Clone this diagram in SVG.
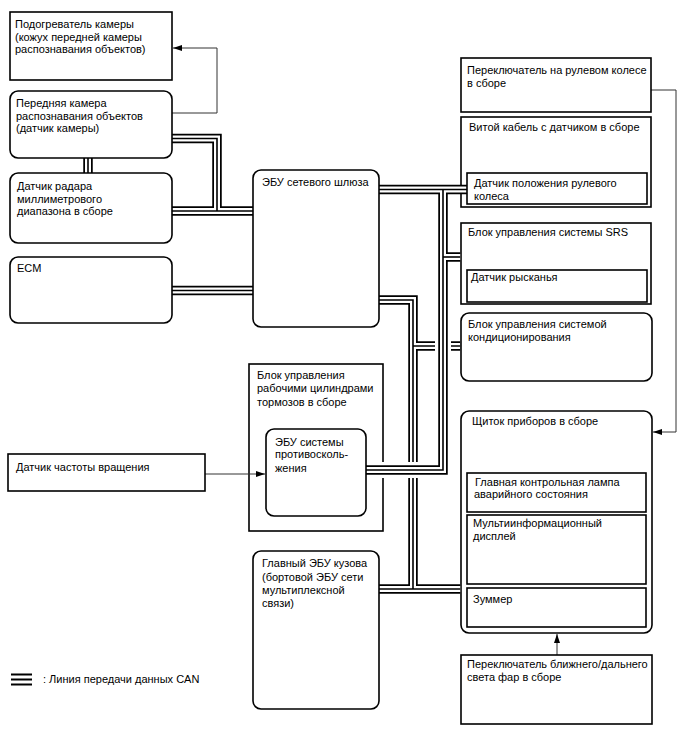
<svg xmlns="http://www.w3.org/2000/svg" width="688" height="755" viewBox="0 0 688 755">
<defs>
<marker id="ah" markerUnits="userSpaceOnUse" markerWidth="9" markerHeight="6" refX="9" refY="3" orient="auto"><path d="M0,0 L9,3 L0,6 z" fill="#000"/></marker>
<style>
.b{fill:#fff;stroke:#000;stroke-width:1.6}
.t{font-family:"Liberation Sans",Arial,sans-serif;font-size:11px;fill:#000}
.co{fill:none;stroke:#000;stroke-width:9.5}
.cw{fill:none;stroke:#fff;stroke-width:6}
.cc{fill:none;stroke:#000;stroke-width:1.6}
.ch{fill:none;stroke:#fff;stroke-width:16}
.th{fill:none;stroke:#333;stroke-width:1}
</style>
</defs>
<rect width="688" height="755" fill="#fff"/>

<g id="containers">
<g id="n-spiral-cable"><rect class="b" x="461" y="117" width="190" height="90"/><text class="t" x="469" y="130.5">Витой кабель с датчиком в сборе</text></g>
<g id="n-srs"><rect class="b" x="461" y="223" width="190" height="81"/><text class="t" x="468" y="235.5">Блок управления системы SRS</text></g>
<g id="n-brake-actuator"><rect class="b" x="249" y="364" width="134" height="167"/><text class="t" x="257" y="379">Блок управления</text><text class="t" x="257" y="392">рабочими цилиндрами</text><text class="t" x="257" y="405.5">тормозов в сборе</text></g>
<g id="n-meter"><rect class="b" x="461" y="411" width="191" height="222" rx="8"/><text class="t" x="472" y="425">Щиток приборов в сборе</text></g>
</g>

<g id="connectors">
<path class="th" d="M172,113 H217 V48 H173" marker-end="url(#ah)"/>
<path class="th" d="M651,90 H676 V432 H653" marker-end="url(#ah)"/>
<path class="th" d="M205,474 H265" marker-end="url(#ah)"/>
<path class="th" d="M557,655 V634" marker-end="url(#ah)"/>
<g id="can-body">
<path class="co" d="M379,300 H413 V589"/><path class="co" d="M413,346 H460.2"/><path class="co" d="M379,589 H460.2"/>
<path class="cw" d="M379,300 H413 V589"/><path class="cw" d="M413,346 H460.2"/><path class="cw" d="M379,589 H460.2"/>
<path class="cc" d="M379,300 H413 V589"/><path class="cc" d="M413,346 H460.2"/><path class="cc" d="M379,589 H460.2"/>
</g>
<g id="can-chassis">
<path class="ch" d="M443,189.5 V470 H366"/>
<path class="co" d="M379,189.5 H467"/><path class="co" d="M443,189.5 V470 H366"/><path class="co" d="M443,257 H460.2"/>
<path class="cw" d="M379,189.5 H467"/><path class="cw" d="M443,189.5 V470 H366"/><path class="cw" d="M443,257 H460.2"/>
<path class="cc" d="M379,189.5 H467"/><path class="cc" d="M443,189.5 V470 H366"/><path class="cc" d="M443,257 H460.2"/>
</g>
<g id="can-left">
<path class="co" d="M172,138.5 H217 V211"/><path class="co" d="M172,211 H253"/><path class="co" d="M88,158 V173"/><path class="co" d="M172,290.5 H253"/>
<path class="cw" d="M172,138.5 H217 V211"/><path class="cw" d="M172,211 H253"/><path class="cw" d="M88,158 V173"/><path class="cw" d="M172,290.5 H253"/>
<path class="cc" d="M172,138.5 H217 V211"/><path class="cc" d="M172,211 H253"/><path class="cc" d="M88,158 V173"/><path class="cc" d="M172,290.5 H253"/>
</g>
</g>

<g id="n-heater"><rect class="b" x="10" y="12" width="162" height="68"/><text class="t" x="15" y="28">Подогреватель камеры</text><text class="t" x="15" y="40.5">(кожух передней камеры</text><text class="t" x="15" y="53">распознавания объектов)</text></g>
<g id="n-camera"><rect class="b" x="10" y="91" width="162" height="67" rx="8"/><text class="t" x="16" y="107">Передняя камера</text><text class="t" x="16" y="119.5">распознавания объектов</text><text class="t" x="16" y="132">(датчик камеры)</text></g>
<g id="n-radar"><rect class="b" x="10" y="173" width="162" height="70" rx="8"/><text class="t" x="17" y="190">Датчик радара</text><text class="t" x="17" y="202.5">миллиметрового</text><text class="t" x="17" y="215">диапазона в сборе</text></g>
<g id="n-ecm"><rect class="b" x="10" y="257" width="162" height="66" rx="8"/><text class="t" x="17" y="272">ECM</text></g>
<g id="n-speed-sensor"><rect class="b" x="8" y="454" width="197" height="37"/><text class="t" x="16" y="470.5">Датчик частоты вращения</text></g>
<g id="n-gateway"><rect class="b" x="253" y="170" width="126" height="157" rx="8"/><text class="t" x="262" y="185.5">ЭБУ сетевого шлюза</text></g>
<g id="n-skid-ecu"><rect class="b" x="266" y="429" width="100" height="87" rx="8"/><text class="t" x="275" y="445.5">ЭБУ системы</text><text class="t" x="275" y="458">противосколь-</text><text class="t" x="275" y="471.5">жения</text></g>
<g id="n-body-ecu"><rect class="b" x="253" y="551" width="126" height="158" rx="8"/><text class="t" x="262" y="567">Главный ЭБУ кузова</text><text class="t" x="262" y="580.5">(бортовой ЭБУ сети</text><text class="t" x="262" y="594">мультиплексной</text><text class="t" x="262" y="607">связи)</text></g>
<g id="n-steering-switch"><rect class="b" x="461" y="58" width="190" height="54"/><text class="t" x="467" y="74">Переключатель на рулевом колесе</text><text class="t" x="467" y="86.5">в сборе</text></g>
<g id="n-steering-sensor"><rect class="b" x="467" y="173" width="180" height="31"/><text class="t" x="474" y="187">Датчик положения рулевого</text><text class="t" x="474" y="199.5">колеса</text></g>
<g id="n-yaw-sensor"><rect class="b" x="467" y="270" width="180" height="32"/><text class="t" x="471" y="280.5">Датчик рысканья</text></g>
<g id="n-ac"><rect class="b" x="461" y="313" width="191" height="68" rx="8"/><text class="t" x="468" y="328">Блок управления системой</text><text class="t" x="468" y="340.5">кондиционирования</text></g>
<g id="n-warning-lamp"><rect class="b" x="467" y="473" width="179" height="39"/><text class="t" x="475" y="485.5">Главная контрольная лампа</text><text class="t" x="474" y="498">аварийного состояния</text></g>
<g id="n-mid"><rect class="b" x="467" y="515" width="179" height="69"/><text class="t" x="473" y="527">Мультиинформационный</text><text class="t" x="473" y="540">дисплей</text></g>
<g id="n-buzzer"><rect class="b" x="467" y="588" width="179" height="39"/><text class="t" x="473" y="603">Зуммер</text></g>
<g id="n-dimmer-switch"><rect class="b" x="461" y="655" width="191" height="69"/><text class="t" x="467" y="668">Переключатель ближнего/дальнего</text><text class="t" x="467" y="681">света фар в сборе</text></g>

<g id="legend">
<path d="M11,674.5 H32 M11,679.5 H32 M11,684.5 H32" stroke="#000" stroke-width="2" fill="none"/>
<text class="t" x="43" y="683">: Линия передачи данных CAN</text>
</g>
</svg>
